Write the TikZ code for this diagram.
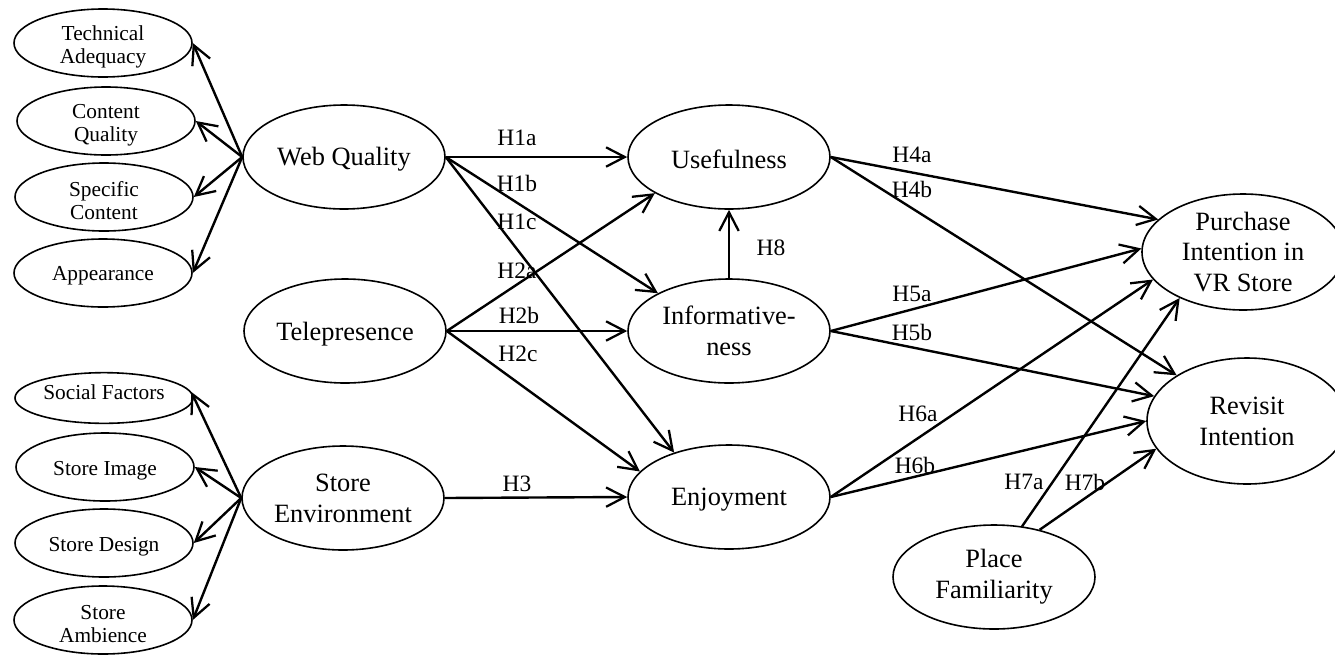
\documentclass[tikz,border=0pt]{standalone}
\usepackage{fontspec}
\setmainfont{Liberation Serif}
\usetikzlibrary{shapes.geometric,arrows.meta}
\begin{document}
\begin{tikzpicture}[x=0.75pt,y=-0.75pt,
  ell/.style={draw, ellipse, line width=1.2pt, inner sep=0pt,
    minimum width=151.5pt, minimum height=78pt},
  smallell/.style={draw, ellipse, line width=1.2pt, inner sep=0pt,
    minimum width=133.5pt, minimum height=51pt},
  bigtxt/.style={align=center, inner sep=0pt,
    font=\fontsize{19.8pt}{23.2pt}\selectfont},
  smalltxt/.style={align=center, inner sep=0pt, yshift=-3pt,
    font=\fontsize{16pt}{17.3pt}\selectfont},
  hyp/.style={inner sep=0pt, font=\fontsize{17.6pt}{20pt}\selectfont},
  arr/.style={line width=1.8pt,
    -{Straight Barb[length=14pt,width=14.5pt,line width=1.7pt]}}
]
\useasboundingbox (0,0) rectangle (1335,654);
\clip (0,0) rectangle (1335,654);

% indicators of web quality
\node[smallell] (ta) at (103,43) {};
\node[smalltxt] at (ta) {Technical\\Adequacy};
\node[smallell] (cq) at (106,121) {};
\node[smalltxt] at (cq) {Content\\Quality};
\node[smallell] (sc) at (104,197) {};
\node[smalltxt] at (sc) {Specific\\Content};
\node[smallell] (ap) at (103,273) {};
\node[smalltxt, yshift=1pt] at (ap) {Appearance};

% indicators of store environment
\node[smallell, minimum height=38pt] (sf) at (104,398) {};
\node[smalltxt, yshift=7.5pt] at (sf) {Social Factors};
\node[smallell] (si) at (105,467) {};
\node[smalltxt] at (si) {Store Image};
\node[smallell] (sd) at (104,543) {};
\node[smalltxt] at (sd) {Store Design};
\node[smallell] (sa) at (103,620) {};
\node[smalltxt] at (sa) {Store\\Ambience};

% exogenous constructs
\node[ell] (wq) at (344,157) {};
\node[bigtxt, yshift=-2pt] at (wq) {Web Quality};
\node[ell] (tp) at (345,331) {};
\node[bigtxt, yshift=-2pt] at (tp) {Telepresence};
\node[ell] (se) at (343,498) {};
\node[bigtxt] at (se) {Store\\Environment};

% mediators
\node[ell] (us) at (729,157) {};
\node[bigtxt, yshift=-2pt] at (us) {Usefulness};
\node[ell] (inf) at (729,331) {};
\node[bigtxt] at (inf) {Informative-\\ness};
\node[ell] (en) at (729,497) {};
\node[bigtxt, yshift=-2pt] at (en) {Enjoyment};

% outcomes and moderator
\node[ell, minimum height=87pt] (pur) at (1243,252) {};
\node[bigtxt] at (pur) {Purchase\\Intention in\\VR Store};
\node[ell, minimum width=150pt, minimum height=94.5pt] (rev) at (1247,421) {};
\node[bigtxt] at (rev) {Revisit\\Intention};
\node[ell] (pf) at (994,577) {};
\node[bigtxt] at (pf) {Place\\Familiarity};

% measurement arrows
\draw[arr] (wq.west) -- (ta.east);
\draw[arr] (wq.west) -- (cq.east);
\draw[arr] (wq.west) -- (sc.east);
\draw[arr] (wq.west) -- (ap.east);
\draw[arr] (se.west) -- (sf.4);
\draw[arr] (se.west) -- (si.east);
\draw[arr] (se.west) -- (sd.east);
\draw[arr] (se.west) -- (sa.east);

% structural paths
\draw[arr] (wq.east) -- (us.west);
\draw[arr] (wq.east) -- (inf.152);
\draw[arr] (wq.east) -- (en.141);
\draw[arr] (tp.east) -- (us.206.6);
\draw[arr] (tp.east) -- (inf.west);
\draw[arr] (tp.east) -- (en.164.8);
\draw[arr] (se.east) -- (en.west);
\draw[arr] (inf.north) -- (us.south);
\draw[arr] (us.east) -- (pur.159.8);
\draw[arr] (us.east) -- (rev.147.4);
\draw[arr] (inf.east) -- (pur.178.9);
\draw[arr] (inf.east) -- (rev.165);
\draw[arr] (en.east) -- (pur.197.5);
\draw[arr] (en.east) -- (rev.180.6);
\draw[arr] (pf.61.7) -- (pur.216.9);
\draw[arr] (pf.46.2) -- (rev.197);

% hypothesis labels
\node[hyp] (h1a) at (517,138) {H1a};
\node[hyp] (h1b) at (517,183) {H1b};
\node[hyp] (h1c) at (517,222) {H1c};
\node[hyp] (h2a) at (517,271) {H2a};
\node[hyp] (h2b) at (519,315) {H2b};
\node[hyp] (h2c) at (518,354) {H2c};
\node[hyp] (h3) at (517,484) {H3};
\node[hyp] (h8) at (771,248) {H8};
\node[hyp] (h4a) at (912,155) {H4a};
\node[hyp] (h4b) at (912,189) {H4b};
\node[hyp] (h5a) at (912,294) {H5a};
\node[hyp] (h5b) at (912,332) {H5b};
\node[hyp] (h6a) at (918,414) {H6a};
\node[hyp] (h6b) at (915,465) {H6b};
\node[hyp] (h7a) at (1024,482) {H7a};
\node[hyp] (h7b) at (1085,482) {H7b};
\end{tikzpicture}
\end{document}
